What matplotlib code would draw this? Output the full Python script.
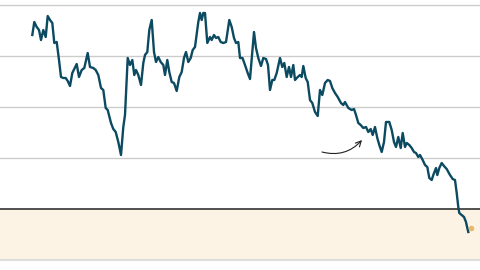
import matplotlib
matplotlib.use("Agg")
import matplotlib.pyplot as plt

# time positions and values
x = [32.3, 34.3, 36.7, 39, 41, 43.3, 45.7, 47.7, 50, 52.3, 54.3, 56.7, 59, 61, 63.3, 65.7, 67.7, 70,
     72.3, 76.7, 79, 81.7, 84.3, 87.7, 90, 93.3, 95.7, 98.3, 101, 103.3, 105.7, 107.7, 111, 113.3,
     115.7, 118.3, 121, 123.3, 125, 127.7, 130, 132.3, 134.3, 136, 138.3, 141, 143.3, 145, 147.3,
     149.3, 151.7, 154, 156, 158.3, 160.7, 163.3, 165, 167.3, 169.3, 171.7, 174, 176.7, 179.3,
     181.7, 184, 186, 188.3, 190.7, 192.7, 195, 198.3, 200, 201.7, 203.3, 205, 207.3, 210, 211.7,
     214, 216, 218.3, 220.7, 223.3, 226, 229.3, 231.7, 234, 236, 238.3, 240, 242.5, 245, 247.7,
     250, 254, 256, 258.3, 261, 263.3, 266, 268, 270, 272.3, 274.3, 276.7, 280, 282.3, 284.3,
     286.7, 289, 291, 293.3, 295, 297.7, 300, 301.7, 303.3, 305.7, 307.7, 310, 312.3, 315, 317.7,
     320, 322.3, 325, 327.7, 330, 332.3, 335, 337.7, 341, 343.3, 345, 348.3, 351.7, 354, 356,
     358.3, 360.7, 363.3, 366, 368.3, 370.7, 372.7, 375, 377.3, 379.3, 381.7, 384, 386, 389.3,
     391.7, 394, 396, 398.3, 400.7, 402.7, 405, 406.7, 409.3, 411.7, 414, 416, 418.3, 420, 422.7,
     425, 427.3, 429.3, 431.7, 433.3, 436, 437.3, 439.3, 441.7, 444, 446.7, 450, 452.7, 455,
     456.7, 458.3, 459.3, 461.7, 464, 466, 467.3, 468.3]
values = [174, 187, 182, 179, 169, 179, 172, 193, 189, 186, 166, 167, 149, 132, 131, 131, 128, 123,
          136, 145, 132, 139, 141, 156, 142, 141, 139, 134, 121, 119, 101, 99, 86, 80,
          77, 67, 54, 82, 94, 151, 144, 149, 134, 139, 134, 124, 146, 154, 157,
          179, 189, 157, 147, 152, 147, 144, 134, 149, 137, 127, 126, 118, 132,
          137, 151, 157, 147, 151, 159, 162, 187, 196, 189, 196, 196, 166, 172, 169,
          174, 171, 172, 167, 166, 167, 189, 182, 171, 166, 167, 151, 151, 144, 136,
          130, 177, 161, 151, 143, 151, 150, 144, 119, 129, 129, 136, 151, 142, 146,
          132, 142, 132, 144, 129, 132, 134, 132, 143, 131, 127, 109, 106, 97, 93,
          119, 114, 126, 129, 128, 121, 116, 112, 106, 104, 107, 101, 99, 100, 94,
          86, 84, 81, 82, 77, 80, 74, 82, 71, 64, 57, 67, 87, 87,
          79, 67, 62, 72, 61, 76, 62, 66, 64, 61, 57, 56, 52, 54, 49,
          44, 42, 31, 29, 34, 41, 34, 41, 46, 43, 40, 34, 30, 29,
          16, 2, -4, -6, -8, -13, -19, -23]
last_x = [470.7]
last_value = [-19]
gridlines = [51, 102, 153, 204]
band = [-51, 0]

fig = plt.figure(figsize=(4.8, 2.7), dpi=100)
ax = fig.add_axes([0, 0, 1, 1])
ax.set_xlim(0, 480)
ax.set_ylim(-61, 209)
ax.axis("off")

ax.axhspan(band[0], band[1], color="#fdf3e4", zorder=0, lw=0)
for g in gridlines:
    ax.axhline(g, color="#cccccc", lw=1.0, zorder=1)
ax.axhline(band[1], color="#222222", lw=1.1, zorder=2)
ax.axhline(band[0], color="#dddddd", lw=1.5, zorder=2)

ax.plot(x, values, color="#0b4a60", lw=1.7, zorder=3, solid_joinstyle="round")
ax.scatter(last_x, last_value, s=16, color="#e8b96a", zorder=4, lw=0)

ax.annotate("", xy=(362, 69), xytext=(322, 57),
            arrowprops=dict(arrowstyle="->", color="#222222", lw=0.8,
                            connectionstyle="arc3,rad=0.3", shrinkA=0, shrinkB=0))

fig.savefig("out.png", dpi=100)
